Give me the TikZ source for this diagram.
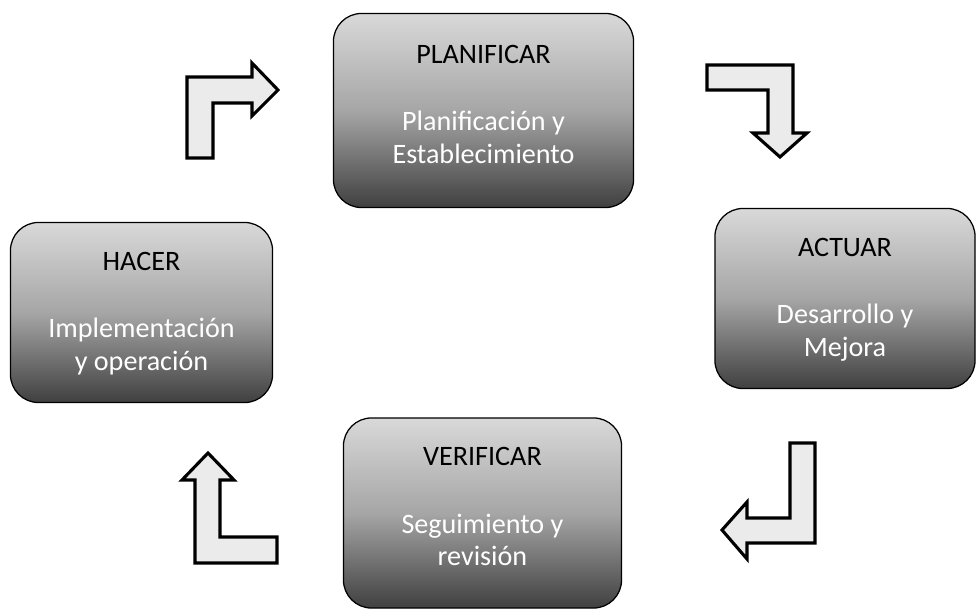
\documentclass[tikz,border=0pt]{standalone}
\usepackage{fontspec}
\setmainfont{Carlito}
\usetikzlibrary{positioning, shadings}

\tikzset{
  phase/.style={draw=black, line width=0.9pt, rounded corners=0.7cm,
                top color=black!15, bottom color=black!75, middle color=black!35,
                inner sep=0},
  phasetitle/.style={inner sep=0, outer sep=0, text=black,
                     font=\fontsize{20}{23}\selectfont},
  phasetext/.style={inner sep=0, outer sep=0, text=white, align=center,
                    font=\fontsize{20}{23}\selectfont},
  bentarrow/.style={draw=black, line width=2.2pt, fill=black!8, line join=miter}
}

\begin{document}
\begin{tikzpicture}[x=0.025cm,y=-0.025cm]
      \useasboundingbox (0,0) rectangle (976,610);

      % the four phases
      \node(plan)[phase, minimum width=7.5cm, minimum height=4.85cm] at (483.5,110.5) {};
      \node(plantitle)[phasetitle, below=0.8cm of plan.north]{PLANIFICAR};
      \node(plantext)[phasetext, below=1.2cm of plantitle]{Planificación y\\Establecimiento};

      \node(act)[phase, minimum width=6.5cm, minimum height=4.5cm] at (845,298.5) {};
      \node(acttitle)[phasetitle, below=0.75cm of act.north]{ACTUAR};
      \node(acttext)[phasetext, below=1.2cm of acttitle]{Desarrollo y\\Mejora};

      \node(ver)[phase, minimum width=6.95cm, minimum height=4.75cm] at (482.5,513) {};
      \node(vertitle)[phasetitle, below=0.75cm of ver.north]{VERIFICAR};
      \node(vertext)[phasetext, below=1.2cm of vertitle]{Seguimiento y\\revisión};

      \node(hac)[phase, minimum width=6.55cm, minimum height=4.5cm] at (141.5,312.5) {};
      \node(hactitle)[phasetitle, below=0.75cm of hac.north]{HACER};
      \node(hactext)[phasetext, below=1.2cm of hactitle]{Implementación\\y operación};

      % bent block arrows
      \draw[bentarrow] (187,158) -- (187,77) -- (252,77) -- (252,63) -- (278,90)
            -- (252,116) -- (252,103) -- (213,103) -- (213,158) -- cycle;
      \draw[bentarrow] (707,65) -- (793,65) -- (793,133) -- (807,133) -- (780,157)
            -- (753,133) -- (768,133) -- (768,90) -- (707,90) -- cycle;
      \draw[bentarrow] (790,443) -- (815,443) -- (815,543) -- (747,543) -- (747,559)
            -- (722,530) -- (747,502) -- (747,518) -- (790,518) -- cycle;
      \draw[bentarrow] (195,563) -- (195,480) -- (182,480) -- (208,453) -- (234,480)
            -- (220,480) -- (220,537) -- (277,537) -- (277,563) -- cycle;
\end{tikzpicture}
\end{document}
